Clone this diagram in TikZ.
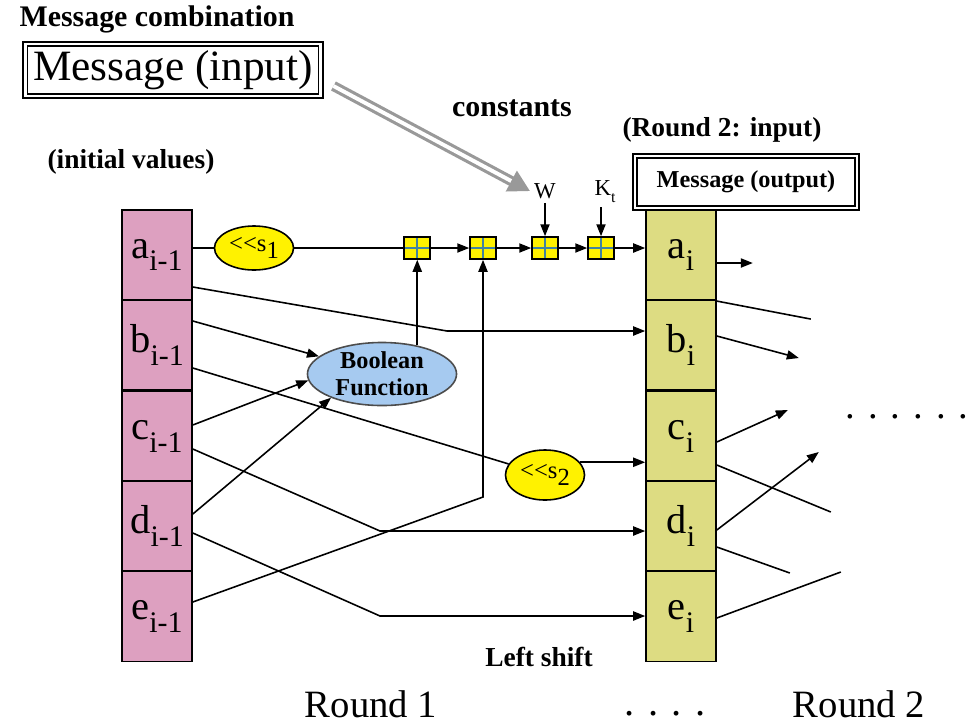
\documentclass[tikz,border=0pt]{standalone}
\usepackage{fontspec}
\setmainfont{Liberation Serif}
\usetikzlibrary{arrows.meta,shapes.geometric,calc}

\definecolor{pinkcell}{RGB}{221,160,192}
\definecolor{olivecell}{RGB}{221,220,130}
\definecolor{boolblue}{RGB}{166,202,240}

\newcommand{\subs}[1]{\raisebox{-0.32em}{\fontsize{8.5}{9}\selectfont #1}}

\tikzset{
  cellL/.style={draw, fill=pinkcell, minimum width=0.7cm, minimum height=0.905cm,
    inner sep=0pt, font=\fontsize{11.5}{12}\selectfont},
  cellR/.style={cellL, fill=olivecell},
  shiftop/.style={ellipse, draw, fill=yellow, minimum width=0.79cm, minimum height=0.44cm,
    inner sep=0pt, font=\fontsize{7}{8}\selectfont},
  adder/.style={draw, fill=yellow, minimum width=0.26cm, minimum height=0.22cm, inner sep=0pt,
    path picture={\draw[cyan!60!black]
      (path picture bounding box.north) -- (path picture bounding box.south)
      (path picture bounding box.west) -- (path picture bounding box.east);}},
  msgbox/.style={draw, double, double distance=0.7pt, line width=0.5pt, inner sep=0pt},
  heading/.style={font=\bfseries\fontsize{7.8}{9}\selectfont},
}

\begin{document}
\begin{tikzpicture}[x=0.01cm,y=-0.01cm,line width=0.45pt,
    >={Triangle[length=3.4pt,width=2.6pt]}]
  \useasboundingbox (0,0) rectangle (967,724);

  % round i-1 registers
  \node[cellL] (ai1) at (157,255) {a\subs{i-1}};
  \node[cellL] (bi1) at (157,345) {b\subs{i-1}};
  \node[cellL] (ci1) at (157,436) {c\subs{i-1}};
  \node[cellL] (di1) at (157,526) {d\subs{i-1}};
  \node[cellL] (ei1) at (157,616) {e\subs{i-1}};

  % round i registers
  \node[cellR] (ai) at (681,255) {a\subs{i}};
  \node[cellR] (bi) at (681,345) {b\subs{i}};
  \node[cellR] (ci) at (681,436) {c\subs{i}};
  \node[cellR] (di) at (681,526) {d\subs{i}};
  \node[cellR] (ei) at (681,616) {e\subs{i}};

  % message boxes
  \node[msgbox, minimum width=2.95cm, minimum height=0.52cm,
    font=\fontsize{12.3}{14}\selectfont] (msgin) at (173,70) {Message (input)};
  \node[msgbox, minimum width=2.22cm, minimum height=0.52cm,
    font=\bfseries\fontsize{6.9}{8}\selectfont] (msgout) at (746,182) {Message (output)};

  % operations
  \node[shiftop] (sh1) at (254,248) {<{}<s\raisebox{-0.3em}{1}};
  \node[shiftop, minimum height=0.5cm] (sh2) at (545,475) {<{}<s\raisebox{-0.3em}{2}};
  \node[ellipse, draw=black!70, fill=boolblue, minimum width=1.49cm, minimum height=0.63cm,
    inner sep=0pt, align=center, font=\bfseries\fontsize{6.9}{7.7}\selectfont]
    (bool) at (382,374) {Boolean\\Function};
  \node[adder] (add1) at (417,248) {};
  \node[adder] (add2) at (483,248) {};
  \node[adder] (add3) at (545,248) {};
  \node[adder] (add4) at (601,248) {};

  % constants
  \node[inner sep=1pt, font=\fontsize{6.5}{7}\selectfont] (w) at (545,191) {W};
  \node[inner sep=1pt, font=\fontsize{6.5}{7}\selectfont] (kt) at (605,192)
    {K\raisebox{-0.3em}{\fontsize{4.5}{5}\selectfont t}};

  % labels
  \node[heading, font=\bfseries\fontsize{8.5}{10}\selectfont] (combtitle) at (157,19) {Message combination};
  \node[heading] (initlbl) at (131,162) {(initial values)};
  \node[heading, font=\bfseries\fontsize{8.5}{10}\selectfont] (constlbl) at (512,108) {constants};
  \node[heading] (round2in) at (722,130) {(Round 2: input)};
  \node[heading] (leftshift) at (539,657) {Left shift};
  \node[anchor=base, font=\fontsize{11}{12}\selectfont] (round1) at (371,717) {Round 1};
  \node[anchor=base, font=\fontsize{11}{12}\selectfont] (round2) at (859,717) {Round 2};
  \node[anchor=base, font=\fontsize{11.5}{12}\selectfont] (dotsmid) at (665,715) {. . . .};
  \node[anchor=base west, inner sep=0pt, font=\fontsize{11}{12}\selectfont] (dotsright) at (845,418) {. . . . . .};

  % message feed
  \draw[gray!80, line width=0.9pt, double=white, double distance=1.1pt,
    -{Triangle[length=6pt,width=6.5pt]}] ([shift={(12,16)}]msgin.east) -- (w.west);

  % main line
  \draw (ai1.east |- sh1) -- (sh1) -- (add1);
  \draw[->] (add1) -- (add2);
  \draw[->] (add2) -- (add3);
  \draw[->] (add3) -- (add4);
  \draw[->] (add4) -- (ai.west |- add4);
  \draw[->] (w.south -| add3) -- (add3);
  \draw[->] (kt.south -| add4) -- (add4);
  \draw[->] (bool.39) -- (bool.39 |- add1.south);

  % crossing connections
  \draw[->] ([shift={(0,32)}]ai1.east) -- (447,331) -- ([shift={(0,-14)}]bi.west);
  \draw[->] ([shift={(0,-24)}]bi1.east) -- (bool);
  \draw ([shift={(0,23)}]bi1.east) -- (sh2);
  \draw[->] (sh2.20) -- (sh2.20 -| ci.west);
  \draw[->] ([shift={(0,-11)}]ci1.east) -- (bool.185);
  \draw[->] ([shift={(0,13)}]ci1.east) -- (380,531) -- ([shift={(0,5)}]di.west);
  \draw[->] ([shift={(0,-12)}]di1.east) -- (bool.205);
  \draw[->] ([shift={(0,7)}]di1.east) -- (380,616) -- (ei.west);
  \draw[->] ([shift={(0,-14)}]ei1.east) -- (483,497) -- (add2);

  % into round 2
  \draw[->] ([shift={(0,8)}]ai.east) -- ++(36,0);
  \draw (ai.south east) -- ++(94,18);
  \draw[->] ([shift={(0,-9)}]bi.east) -- ++(82,22);
  \draw[->] ([shift={(0,6)}]ci.east) -- ++(71,-32);
  \draw ([shift={(0,29)}]ci.east) -- ++(114,47);
  \draw[->] ([shift={(0,4)}]di.east) -- ++(102,-78);
  \draw ([shift={(0,21)}]di.east) -- ++(73,26);
  \draw ([shift={(0,2)}]ei.east) -- ++(124,-46);
\end{tikzpicture}
\end{document}
